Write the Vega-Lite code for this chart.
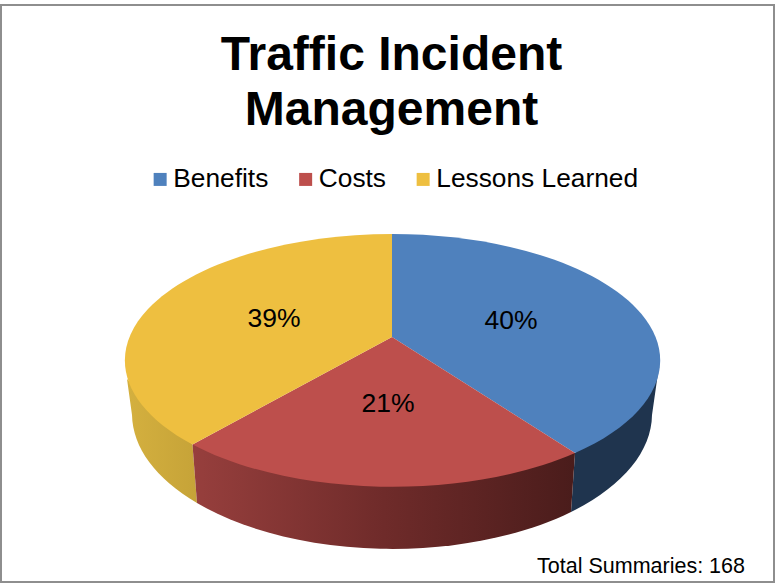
{"$schema":"https://vega.github.io/schema/vega-lite/v6.json","width":773,"height":577,"autosize":"none","padding":{"top":5,"left":1,"right":1,"bottom":2},"background":"white","view":{"stroke":"#8e8e8e","strokeWidth":2},"config":{"font":"Liberation Sans"},"title":{"text":["Traffic Incident","Management"],"font":"Liberation Sans","fontSize":48,"fontWeight":"bold","lineHeight":55,"color":"#000000","anchor":"middle","dx":4,"baseline":"alphabetic","offset":-168},"datasets":{"slices":[{"slice":"Benefits","share":40,"label":"40%"},{"slice":"Costs","share":21,"label":"21%"},{"slice":"Lessons Learned","share":39,"label":"39%"}],"notes":[{"note":"Total Summaries: 168"}]},"layer":[{"data":{"name":"slices"},"transform":[{"filter":"datum.slice === 'Lessons Learned'"}],"mark":{"type":"point","filled":true,"opacity":1,"size":4,"shape":"M-260.5,85.5 L-195,151 L-190.5,209.5 A260 135 0 0 1 -255.5,121.5 Z","fill":{"gradient":"linear","x1":0,"x2":1,"y1":0,"y2":0,"stops":[{"offset":0,"color":"#d4b03f"},{"offset":1,"color":"#c6a338"}]},"stroke":null}},{"data":{"name":"slices"},"transform":[{"filter":"datum.slice === 'Benefits'"}],"mark":{"type":"point","filled":true,"opacity":1,"size":4,"shape":"M270.5,79.5 L264.5,121.5 A260 135 0 0 1 183.5,218.5 L187.5,159.5 Z","fill":"#1f344e","stroke":null}},{"data":{"name":"slices"},"transform":[{"filter":"datum.slice === 'Costs'"}],"mark":{"type":"point","filled":true,"opacity":1,"size":4,"shape":"M-195,151 L187.5,159.5 L183.5,218.5 A260 135 0 0 1 -190.5,209.5 Z","fill":{"gradient":"linear","x1":0,"x2":1,"y1":0,"y2":0,"stops":[{"offset":0,"color":"#973f3d"},{"offset":0.5,"color":"#6f2b2a"},{"offset":1,"color":"#4a1c1b"}]},"stroke":null}},{"data":{"name":"slices"},"transform":[{"filter":"datum.slice === 'Benefits'"}],"mark":{"type":"point","filled":true,"opacity":1,"size":4,"stroke":null,"shape":"M4.5,43.5 L4.5,-59.5 A268 126.5 0 0 1 187.5,159.5 Z"},"encoding":{"color":{"field":"slice","type":"nominal","scale":{"domain":["Benefits","Costs","Lessons Learned"],"range":["#4f81bd","#bd4f4c","#eebf40"]},"legend":{"title":null,"orient":"none","legendX":146,"legendY":161,"direction":"horizontal","columns":3,"columnPadding":23.5,"symbolType":"square","symbolSize":169,"symbolStrokeWidth":0,"symbolOpacity":1,"labelFont":"Liberation Sans","labelFontSize":26.3,"labelColor":"#000000","labelOffset":0,"labelLimit":300}}}},{"data":{"name":"slices"},"transform":[{"filter":"datum.slice === 'Costs'"}],"mark":{"type":"point","filled":true,"opacity":1,"size":4,"stroke":null,"shape":"M4.5,43.5 L187.5,159.5 A268 126.5 0 0 1 -195,151 Z"},"encoding":{"color":{"field":"slice","type":"nominal"}}},{"data":{"name":"slices"},"transform":[{"filter":"datum.slice === 'Lessons Learned'"}],"mark":{"type":"point","filled":true,"opacity":1,"size":4,"stroke":null,"shape":"M4.5,43.5 L-195,151 A268 126.5 0 0 1 4.5,-59.5 Z"},"encoding":{"color":{"field":"slice","type":"nominal"}}},{"data":{"name":"slices"},"transform":[{"filter":"datum.slice === 'Benefits'"}],"mark":{"type":"text","font":"Liberation Sans","fontSize":26.5,"color":"#000000","baseline":"middle","align":"center","dx":123.5,"dy":27.5},"encoding":{"text":{"field":"label"}}},{"data":{"name":"slices"},"transform":[{"filter":"datum.slice === 'Costs'"}],"mark":{"type":"text","font":"Liberation Sans","fontSize":26.5,"color":"#000000","baseline":"middle","align":"center","dx":0.5,"dy":110.5},"encoding":{"text":{"field":"label"}}},{"data":{"name":"slices"},"transform":[{"filter":"datum.slice === 'Lessons Learned'"}],"mark":{"type":"text","font":"Liberation Sans","fontSize":26.5,"color":"#000000","baseline":"middle","align":"center","dx":-113.5,"dy":25.5},"encoding":{"text":{"field":"label"}}},{"data":{"name":"notes"},"mark":{"type":"text","font":"Liberation Sans","fontSize":21.5,"color":"#000000","baseline":"middle","align":"right","dx":357.5,"dy":273.5},"encoding":{"text":{"field":"note"}}}]}
